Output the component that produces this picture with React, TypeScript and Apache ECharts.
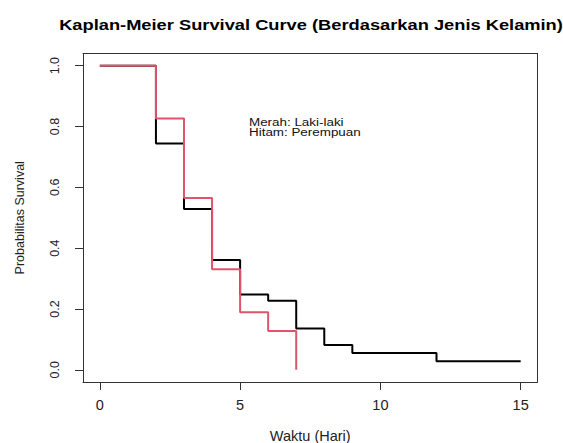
import React, { useEffect, useRef } from "react";
import * as echarts from "echarts";

const timesHitam = [0, 2, 3, 4, 5, 6, 7, 8, 9, 12, 15];
const survHitam = [1.0, 0.744, 0.529, 0.361, 0.248, 0.227, 0.136, 0.082, 0.055, 0.028, 0.028];
const timesMerah = [0, 2, 3, 4, 5, 6, 7];
const survMerah = [1.0, 0.826, 0.565, 0.331, 0.189, 0.128, 0.0];
const xTicks = [0, 5, 10, 15];
const yTicks = [0, 0.2, 0.4, 0.6, 0.8, 1.0];

const FONT = "'Liberation Sans', Arial, sans-serif";

export default function App() {
  const ref = useRef<HTMLDivElement>(null);
  useEffect(() => {
    if (!ref.current) return;
    const chart = echarts.init(ref.current, null, { renderer: "svg" });
    const axisCol = "#333";
    chart.setOption({
      animation: false,
      backgroundColor: "#fff",
      textStyle: { fontFamily: FONT },
      grid: {
        left: 83,
        right: 25.5,
        top: 53.5,
        bottom: 61,
        containLabel: false,
        outerBoundsMode: "none",
      },
      xAxis: [
        {
          type: "value",
          min: -0.6,
          max: 15.6,
          position: "bottom",
          name: "Waktu (Hari)",
          nameLocation: "middle",
          nameGap: 46,
          nameTextStyle: { fontFamily: FONT, fontSize: 14.5, color: "#222" },
          axisLine: { show: true, onZero: false, lineStyle: { color: axisCol, width: 1 } },
          axisTick: { show: true, length: 8, customValues: xTicks, lineStyle: { color: axisCol } },
          axisLabel: { customValues: xTicks, margin: 15, fontSize: 14.5, color: "#222", fontFamily: FONT },
          splitLine: { show: false },
        },
        {
          type: "value",
          min: -0.6,
          max: 15.6,
          position: "top",
          axisLine: { show: true, onZero: false, lineStyle: { color: axisCol, width: 1 } },
          axisTick: { show: false },
          axisLabel: { show: false },
          splitLine: { show: false },
        },
      ],
      yAxis: [
        {
          type: "value",
          min: -0.04,
          max: 1.04,
          position: "left",
          name: "Probabilitas Survival",
          nameLocation: "middle",
          nameGap: 57,
          nameRotate: 90,
          nameTextStyle: { fontFamily: FONT, fontSize: 12.5, color: "#222" },
          axisLine: { show: true, onZero: false, lineStyle: { color: axisCol, width: 1 } },
          axisTick: { show: true, length: 8, customValues: yTicks, lineStyle: { color: axisCol } },
          axisLabel: {
            customValues: yTicks,
            rotate: 90,
            margin: 22,
            fontSize: 12.5,
            color: "#222",
            fontFamily: FONT,
            formatter: (v: number) => v.toFixed(1),
            align: "center",
          },
          splitLine: { show: false },
        },
        {
          type: "value",
          min: -0.04,
          max: 1.04,
          position: "right",
          axisLine: { show: true, onZero: false, lineStyle: { color: axisCol, width: 1 } },
          axisTick: { show: false },
          axisLabel: { show: false },
          splitLine: { show: false },
        },
      ],
      series: [
        {
          name: "Hitam: Perempuan",
          type: "line",
          step: "end",
          symbol: "none",
          data: timesHitam.map((t, i) => [t, survHitam[i]]),
          lineStyle: { color: "#000", width: 2 },
          z: 2,
        },
        {
          name: "Merah: Laki-laki",
          type: "line",
          step: "end",
          symbol: "none",
          data: timesMerah.map((t, i) => [t, survMerah[i]]),
          lineStyle: { color: "#DF536B", width: 2 },
          z: 3,
        },
      ],
      graphic: [
        {
          type: "text",
          x: 311,
          y: 25,
          scaleX: 1.18,
          style: {
            text: "Kaplan-Meier Survival Curve (Berdasarkan Jenis Kelamin)",
            font: `bold 15.5px ${FONT}`,
            fill: "#000",
            align: "center",
            verticalAlign: "middle",
          },
        },
        {
          type: "text",
          x: 249,
          y: 117,
          scaleX: 1.22,
          style: {
            text: "Merah: Laki-laki\nHitam: Perempuan",
            font: `11px ${FONT}`,
            lineHeight: 10.5,
            fill: "#111",
            align: "left",
            verticalAlign: "top",
          },
        },
      ],
    });
    return () => chart.dispose();
  }, []);
  return <div ref={ref} style={{ width: 563, height: 443, position: "absolute", left: 0, top: 0 }} />;
}
